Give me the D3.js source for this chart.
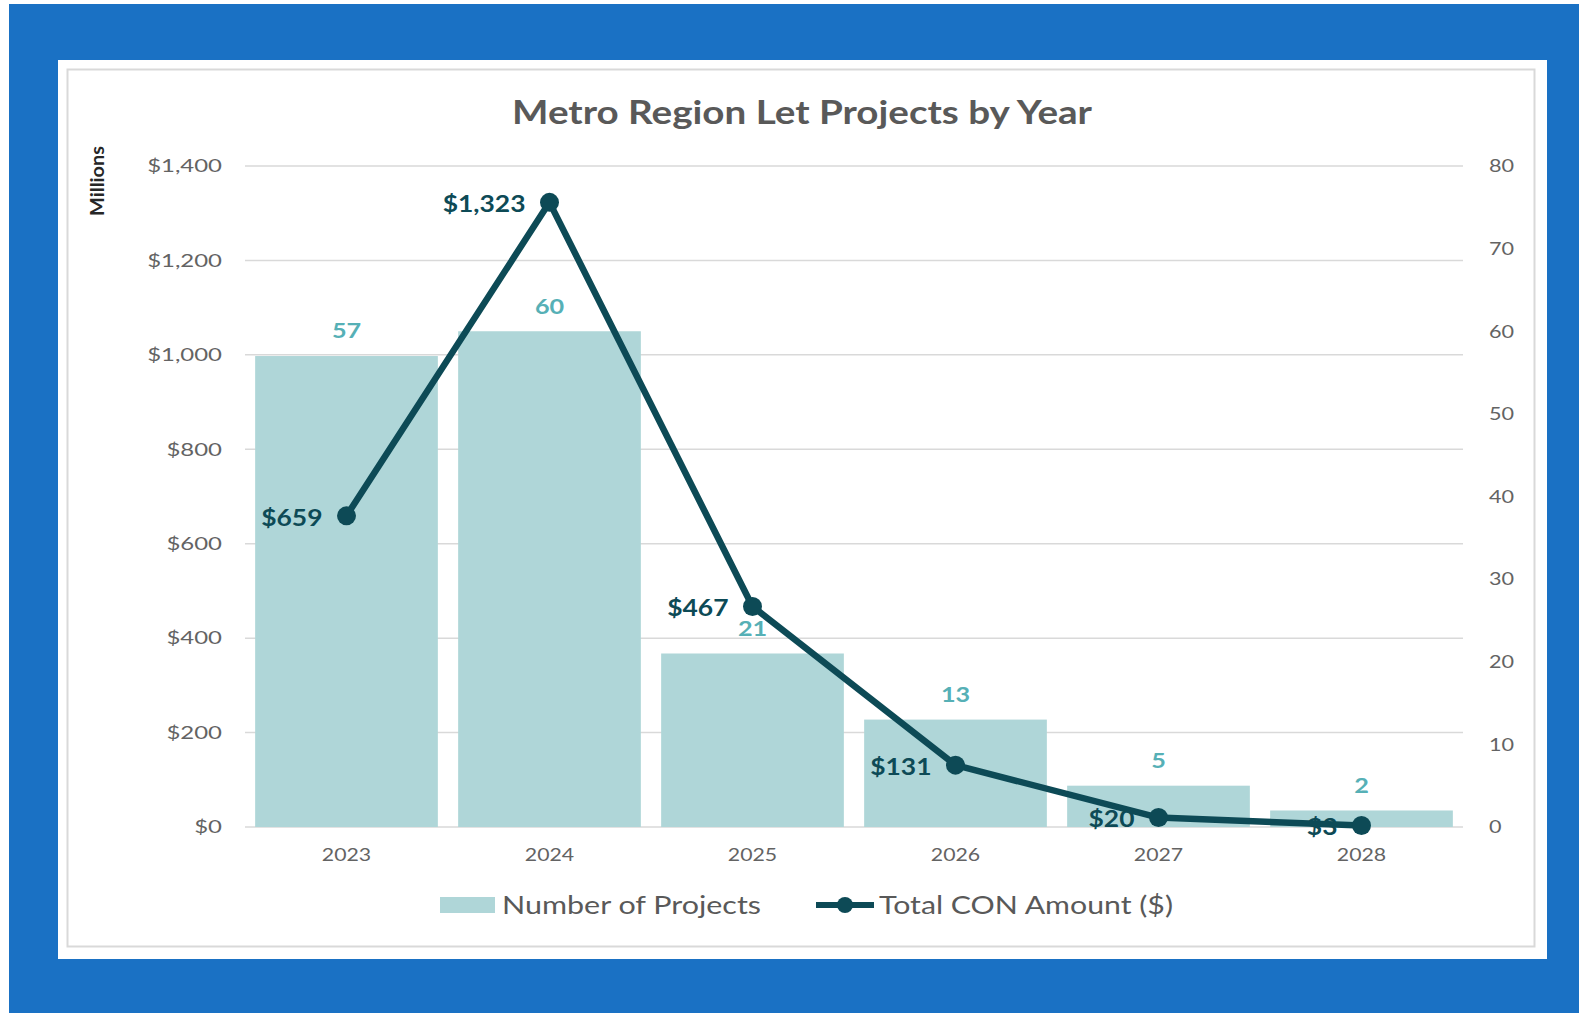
<!DOCTYPE html>
<html>
<head>
<meta charset="utf-8">
<script src="https://cdn.jsdelivr.net/npm/d3@7"></script>
<style>
  html, body { margin: 0; padding: 0; background: #fff; }
  svg { display: block; font-family: Lato, "Open Sans", sans-serif; }
</style>
</head>
<body>
<div id="chart"></div>
<script>
// Data
const years = ["2023", "2024", "2025", "2026", "2027", "2028"];
const projectCounts = [57, 60, 21, 13, 5, 2];
const conAmounts = [659, 1323, 467, 131, 20, 3]; // millions
const leftTicks = [0, 200, 400, 600, 800, 1000, 1200, 1400];
const rightTicks = [0, 10, 20, 30, 40, 50, 60, 70, 80];

// the source picture is a bit stretched sideways, so widen the glyphs
const widen = (selection, factor) => {
    selection.each(function() {
        const w = this.getComputedTextLength();
        d3.select(this).attr("textLength", w * factor).attr("lengthAdjust", "spacingAndGlyphs");
    });
}

const buildChart = () => {
    const width = 1579;
    const height = 1013;

    const plotLeft = 245;
    const plotRight = 1463;
    const plotTop = 166;
    const plotBottom = 827;

    const svg = d3.select("#chart")
        .append("svg")
        .attr("width", width)
        .attr("height", height);

    // Background: blue frame, white card
    svg.append("rect").attr("width", width).attr("height", height).attr("fill", "#fff");
    svg.append("rect").attr("x", 9).attr("y", 4).attr("width", width - 9).attr("height", height - 4).attr("fill", "#1a71c4");
    svg.append("rect").attr("x", 58).attr("y", 60).attr("width", 1489).attr("height", 899).attr("fill", "#fff");
    svg.append("rect").attr("x", 67.5).attr("y", 69.5).attr("width", 1467).attr("height", 877)
        .attr("fill", "none").attr("stroke", "#d9d9d9").attr("stroke-width", 2);

    // Scales
    const x = d3.scaleBand().domain(years).range([plotLeft, plotRight]).paddingInner(0.1).paddingOuter(0.05);
    const yLeft = d3.scaleLinear().domain([0, 1400]).range([plotBottom, plotTop]);
    const yRight = d3.scaleLinear().domain([0, 80]).range([plotBottom, plotTop]);

    // Title
    svg.append("text")
        .attr("x", 802).attr("y", 124)
        .attr("text-anchor", "middle")
        .attr("font-size", 32).attr("font-weight", 700)
        .attr("fill", "#595959")
        .attr("textLength", 580).attr("lengthAdjust", "spacingAndGlyphs")
        .text("Metro Region Let Projects by Year");

    // Gridlines (left axis)
    svg.append("g")
        .selectAll("line")
        .data(leftTicks)
        .join("line")
        .attr("x1", plotLeft).attr("x2", plotRight)
        .attr("y1", d => yLeft(d)).attr("y2", d => yLeft(d))
        .attr("stroke", "#d9d9d9").attr("stroke-width", 1.5);

    // Left axis
    const leftAxis = svg.append("g")
        .attr("transform", `translate(${plotLeft - 23},0)`)
        .call(d3.axisLeft(yLeft).tickValues(leftTicks).tickSize(0).tickPadding(0)
            .tickFormat(d => "$" + d3.format(",")(d)));
    leftAxis.select(".domain").remove();
    leftAxis.selectAll("text").attr("font-size", 18).attr("fill", "#636363").attr("font-family", "Lato, sans-serif")
        .call(widen, 1.33);

    // Right axis
    const rightAxis = svg.append("g")
        .attr("transform", `translate(${plotRight + 26},0)`)
        .call(d3.axisRight(yRight).tickValues(rightTicks).tickSize(0).tickPadding(0));
    rightAxis.select(".domain").remove();
    rightAxis.selectAll("text").attr("font-size", 18).attr("fill", "#636363").attr("font-family", "Lato, sans-serif")
        .call(widen, 1.2);

    // "Millions" label
    svg.append("text")
        .attr("transform", "translate(104,181) rotate(-90)")
        .attr("text-anchor", "middle")
        .attr("font-size", 19).attr("font-weight", 700)
        .attr("fill", "#262626")
        .attr("textLength", 70).attr("lengthAdjust", "spacingAndGlyphs")
        .text("Millions");

    // Bottom axis
    const bottomAxis = svg.append("g")
        .attr("transform", `translate(0,${plotBottom + 22})`)
        .call(d3.axisBottom(x).tickSize(0).tickPadding(0));
    bottomAxis.select(".domain").remove();
    bottomAxis.selectAll("text").attr("font-size", 17).attr("fill", "#636363").attr("font-family", "Lato, sans-serif")
        .call(widen, 1.25);

    // Bars
    svg.append("g")
        .selectAll("rect")
        .data(years)
        .join("rect")
        .attr("x", d => x(d))
        .attr("width", x.bandwidth())
        .attr("y", (d, i) => yRight(projectCounts[i]))
        .attr("height", (d, i) => plotBottom - yRight(projectCounts[i]))
        .attr("fill", "#afd6d8");

    // Bar labels
    svg.append("g")
        .selectAll("text")
        .data(years)
        .join("text")
        .attr("x", d => x(d) + x.bandwidth() / 2)
        .attr("y", (d, i) => yRight(projectCounts[i]) - 25)
        .attr("dy", "0.35em")
        .attr("text-anchor", "middle")
        .attr("font-size", 21).attr("font-weight", 700)
        .attr("fill", "#56b0b6")
        .text((d, i) => projectCounts[i])
        .call(widen, 1.2);

    // Line labels (under the line, like the source)
    svg.append("g")
        .selectAll("text")
        .data(years)
        .join("text")
        .attr("x", d => x(d) + x.bandwidth() / 2 - 24)
        .attr("y", (d, i) => yLeft(conAmounts[i]) + 2)
        .attr("dy", "0.35em")
        .attr("text-anchor", "end")
        .attr("font-size", 22).attr("font-weight", 700)
        .attr("fill", "#0d4a56")
        .text((d, i) => "$" + d3.format(",")(conAmounts[i]))
        .call(widen, 1.2);

    // Line
    const line = d3.line()
        .x(d => x(d.year) + x.bandwidth() / 2)
        .y(d => yLeft(d.value));
    const lineData = years.map((year, i) => ({ year, value: conAmounts[i] }));

    svg.append("path")
        .datum(lineData)
        .attr("d", line)
        .attr("fill", "none")
        .attr("stroke", "#0d4a56")
        .attr("stroke-width", 6.5)
        .attr("stroke-linejoin", "round");

    svg.append("g")
        .selectAll("circle")
        .data(lineData)
        .join("circle")
        .attr("cx", d => x(d.year) + x.bandwidth() / 2)
        .attr("cy", d => yLeft(d.value))
        .attr("r", 9.5)
        .attr("fill", "#0d4a56");

    // Legend
    const legend = svg.append("g").attr("font-size", 25).attr("fill", "#595959");
    legend.append("rect")
        .attr("x", 440).attr("y", 897).attr("width", 55).attr("height", 16)
        .attr("fill", "#afd6d8");
    legend.append("text")
        .attr("x", 502).attr("y", 905).attr("dy", "0.35em")
        .attr("textLength", 259).attr("lengthAdjust", "spacingAndGlyphs")
        .text("Number of Projects");
    legend.append("line")
        .attr("x1", 816).attr("x2", 874).attr("y1", 905).attr("y2", 905)
        .attr("stroke", "#0d4a56").attr("stroke-width", 6);
    legend.append("circle")
        .attr("cx", 845).attr("cy", 905).attr("r", 8)
        .attr("fill", "#0d4a56");
    legend.append("text")
        .attr("x", 879).attr("y", 905).attr("dy", "0.35em")
        .attr("textLength", 294).attr("lengthAdjust", "spacingAndGlyphs")
        .text("Total CON Amount ($)");
}

buildChart();
</script>
</body>
</html>
